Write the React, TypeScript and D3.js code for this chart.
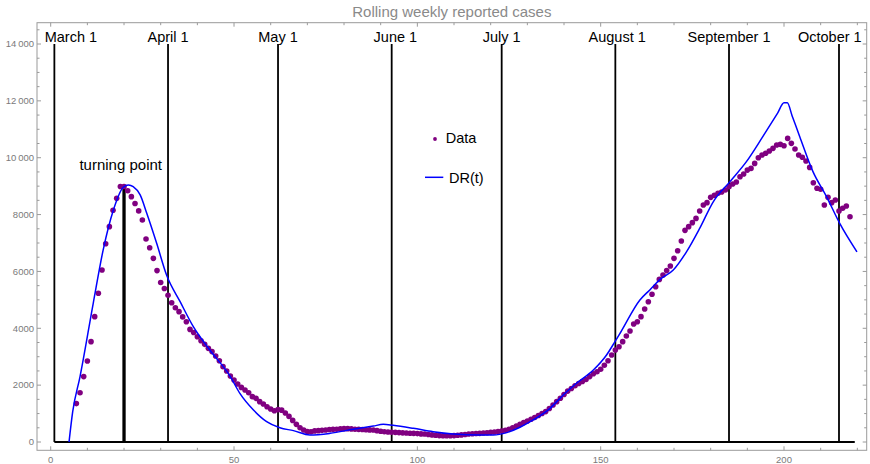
import React from "react";
import * as d3 from "d3";

const title = "Rolling weekly reported cases";

const dataStartDay = 7;
const dataValues = [
  1350, 1735, 2300, 2850, 3530, 4410, 5230, 6050, 6975, 7575, 8150, 8570, 8990, 8990,
  8840, 8630, 8390, 8130, 7810, 7140, 6835, 6460, 6030, 5610, 5400, 5160, 4900, 4720,
  4585, 4400, 4230, 3960, 3850, 3700, 3560, 3435, 3295, 3180, 3025, 2860, 2650, 2500,
  2320, 2180, 2040, 1920, 1830, 1735, 1595, 1535, 1420, 1335, 1240, 1160, 1100, 1140,
  1120, 1020, 900, 760, 620, 500, 420, 370, 360, 390, 400, 410, 420, 440,
  445, 450, 460, 470, 470, 460, 450, 445, 440, 430, 425, 420, 400, 380,
  360, 350, 345, 340, 330, 320, 315, 310, 305, 295, 285, 280, 265, 250,
  235, 225, 220, 222, 222, 225, 235, 250, 265, 280, 290, 300, 305, 315,
  325, 340, 350, 365, 385, 410, 450, 500, 560, 620, 680, 740, 800, 860,
  930, 1000, 1070, 1180, 1300, 1420, 1540, 1670, 1790, 1880, 1980, 2060, 2130, 2200,
  2300, 2400, 2470, 2560, 2700, 2860, 3060, 3235, 3350, 3530, 3730, 3905, 4150, 4230,
  4410, 4680, 4935, 5195, 5460, 5720, 5875, 6030, 6190, 6460, 6730, 7070, 7445, 7575,
  7715, 7865, 8125, 8335, 8420, 8605, 8680, 8750, 8795, 8865, 8980, 9075, 9145, 9330,
  9425, 9565, 9625, 9800, 10000, 10095, 10155, 10235, 10330, 10445, 10470, 10420, 10680, 10505,
  10305, 10095, 10015, 9885, 9660, 9120, 8925, 8890, 8335, 8605, 8420, 8510, 8125, 8220,
  8300, 7925,
];

const drDays = [
  5, 6, 8, 11.6, 14.3, 17.1, 19.8, 21.2, 22.5, 24.4, 26.2, 28.9, 31.6, 35.3, 38.9, 43.4,
  48.9, 51.6, 55.3, 58.9, 62.5, 66.2, 70.7, 76.2, 82.5, 88, 90.7, 93.4, 98.9, 104.3, 109.8,
  117.1, 120.7, 124.4, 128, 131.6, 136.2, 139.8, 143.4, 148, 151.6, 153.9, 155.3, 160.7,
  163.4, 166.2, 169.8, 173.4, 177, 180.7, 185.2, 189.8, 194.3, 198.3, 200, 200.9, 202.2,
  204.3, 207.9, 211.6, 215.2, 219.9,
];
const drValues = [
  0, 1065, 2300, 4880, 6750, 8160, 8960, 9040, 8980, 8690, 8045, 6990, 5875, 4935, 4055, 3235,
  2320, 1710, 1125, 715, 500, 400, 245, 305, 445, 560, 620, 585, 480, 360, 280,
  245, 245, 330, 520, 775, 1185, 1655, 2065, 2530, 3060, 3530, 3825, 4995,
  5350, 5720, 6050, 6690, 7515, 8450, 9150, 9870, 10760, 11580, 11935, 11935, 11480,
  10740, 9510, 8630, 7690, 6690,
];

const monthNames = ["March 1", "April 1", "May 1", "June 1", "July 1", "August 1", "September 1", "October 1"];
const monthDays = [1, 32, 62, 93, 123, 154, 185, 215];
const monthLabelDays = [5.5, 32, 62, 94, 123, 154.5, 185, 212.5];

const turningDay = 20;
const turningValue = 9000;
const turningLabel = "turning point";
const monthLineTop = 14000;
const baselineEndDay = 219.3;

const xMajorTicks = [0, 50, 100, 150, 200];
const xMinorTicks = d3.range(0, 221, 10);
const yMajorTicks = [0, 2000, 4000, 6000, 8000, 10000, 12000, 14000];
const yMinorTicks = d3.range(0, 14501, 500);

const legendLabels = ["Data", "DR(t)"];

const W = 870;
const H = 464;
const frame = { left: 37, right: 866.7, top: 22.7, bottom: 450.3 };
const FONT = "'Liberation Sans', Arial, Helvetica, sans-serif";

export default function App() {
  const x = d3.scaleLinear().domain([0, 200]).range([50.7, 784.0]);
  const y = d3.scaleLinear().domain([0, 14000]).range([442, 44]);

  const points = dataValues.map((v, i) => ({ d: dataStartDay + i, v }));
  const drPts = drDays.map((d, i) => ({ d, v: drValues[i] }));
  const line = d3
    .line<{ d: number; v: number }>()
    .x((p) => x(p.d))
    .y((p) => y(p.v))
    .curve(d3.curveMonotoneX);

  const fmt = (v: number) => {
    const s = String(v);
    return v >= 10000 ? s.slice(0, s.length - 3) + "\u2009" + s.slice(-3) : s;
  };

  const axisColor = "#9a9a9a";
  const tickText = "#7a7a7a";

  return (
    <svg
      width={W}
      height={H}
      style={{ position: "absolute", left: 0, top: 0, background: "#fff" }}
      fontFamily={FONT}
    >
      <text x={(frame.left + frame.right) / 2} y={16.5} textAnchor="middle" fontSize={15} fill="#8a8a8a">
        {title}
      </text>

      <rect
        x={frame.left}
        y={frame.top}
        width={frame.right - frame.left}
        height={frame.bottom - frame.top}
        fill="none"
        stroke={axisColor}
        strokeWidth={1}
      />
      {xMinorTicks.map((t) => {
        const major = xMajorTicks.includes(t);
        const len = major ? 4 : 2.5;
        return (
          <g key={"xt" + t}>
            <line x1={x(t)} x2={x(t)} y1={frame.bottom} y2={frame.bottom - len} stroke={axisColor} />
            <line x1={x(t)} x2={x(t)} y1={frame.top} y2={frame.top + len} stroke={axisColor} />
          </g>
        );
      })}
      {xMajorTicks.map((t) => (
        <text key={"xl" + t} x={x(t)} y={463} textAnchor="middle" fontSize={9.5} fill={tickText}>
          {t}
        </text>
      ))}
      {yMinorTicks.map((t) => {
        const major = yMajorTicks.includes(t);
        const len = major ? 4 : 2.5;
        return (
          <g key={"yt" + t}>
            <line x1={frame.left} x2={frame.left + len} y1={y(t)} y2={y(t)} stroke={axisColor} />
            <line x1={frame.right} x2={frame.right - len} y1={y(t)} y2={y(t)} stroke={axisColor} />
          </g>
        );
      })}
      {yMajorTicks.map((t) => (
        <text key={"yl" + t} x={34} y={y(t)} dy="0.35em" textAnchor="end" fontSize={9.5} fill={tickText}>
          {fmt(t)}
        </text>
      ))}

      {monthDays.map((d, i) => (
        <line key={"m" + i} x1={x(d)} x2={x(d)} y1={y(0)} y2={y(monthLineTop)} stroke="#000" strokeWidth={1.8} />
      ))}
      <line x1={x(monthDays[0])} x2={x(baselineEndDay)} y1={y(0)} y2={y(0)} stroke="#000" strokeWidth={1.8} />
      <line
        x1={x(turningDay)}
        x2={x(turningDay)}
        y1={y(0)}
        y2={y(turningValue)}
        stroke="#000"
        strokeWidth={3.3}
      />
      {monthNames.map((n, i) => (
        <text key={"ml" + i} x={x(monthLabelDays[i])} y={41.5} textAnchor="middle" fontSize={14.5} fill="#000">
          {n}
        </text>
      ))}
      <text x={x(19.1)} y={170} textAnchor="middle" fontSize={15} fill="#000">
        {turningLabel}
      </text>

      {points.map((p) => (
        <circle key={"p" + p.d} cx={x(p.d)} cy={y(p.v)} r={2.8} fill="#800080" />
      ))}
      <path d={line(drPts) || ""} fill="none" stroke="#0000ff" strokeWidth={1.5} />

      <circle cx={435} cy={139} r={1.9} fill="#800080" />
      <text x={445.7} y={143} fontSize={14.5} fill="#000">
        {legendLabels[0]}
      </text>
      <line x1={425} x2={443.3} y1={177.3} y2={177.3} stroke="#0000ff" strokeWidth={1.5} />
      <text x={449} y={183.3} fontSize={14.5} fill="#000">
        {legendLabels[1]}
      </text>
    </svg>
  );
}
